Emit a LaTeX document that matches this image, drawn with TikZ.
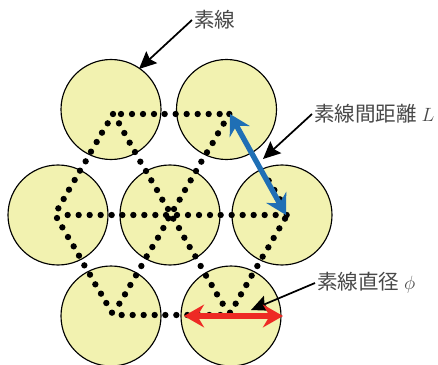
\documentclass[tikz,border=0pt]{standalone}
\usepackage{fontspec}
\newfontfamily\cjk{Noto Sans CJK JP}
\usetikzlibrary{arrows.meta}
\definecolor{jaune}{HTML}{F2F2B0}
\definecolor{bleu}{HTML}{1F6FB5}
\definecolor{rouge}{HTML}{EE2A24}
\definecolor{encre}{HTML}{484848}
\begin{document}
\begin{tikzpicture}[x=0.75pt,y=-0.75pt]
\tikzstyle{lien}=[-{Stealth[length=13pt,width=12pt,inset=2pt]},line width=1.3pt]
\tikzstyle{cote}=[{Stealth[length=15pt,width=17pt,inset=5pt]}-{Stealth[length=15pt,width=17pt,inset=5pt]},line width=4pt]
\tikzset{brin/.style={draw,line width=0.85pt,circle,fill=jaune,minimum size=75pt,inner sep=0pt},
etiquette/.style={text=encre,font=\cjk\fontsize{15.4pt}{15.4pt}\selectfont,inner sep=1.5pt,anchor=west}}
\useasboundingbox (0,0) rectangle (438,364);
\node[brin] (B1) at (111,109.5) {};
\node[brin] (B2) at (226.5,109.5) {};
\node[brin] (B3) at (58,215) {};
\node[brin] (B4) at (170,215) {};
\node[brin] (B5) at (282,215) {};
\node[brin] (B6) at (111,316) {};
\node[brin] (B7) at (231,316) {};

% points
\begin{scope}[shift={(0,60)},x=0.25pt,y=-0.25pt]
\foreach \x in {339,363,396,429,462,494,527,560,593,626,659,688}
  \fill (\x,162) circle (9.5);
\foreach \x in {203,236,269,302,335,367,400,433,466,498,531,564,597,630,662,695,728,761,794,827,860}
  \fill (\x,465) circle (9.5);
\foreach \x in {365,398,431,464,496,529,562,595,628,661}
  \fill (\x,765) circle (9.5);
\foreach \x/\y in {323/190,306/218,290/246,273/275,257/304,240/332,224/360,207/389,191/417,175/445,
171/474,187/502,204/531,221/559,237/587,253/616,270/644,286/673,303/701,319/729,336/758,
357/190,373/219,389/248,405/276,421/305,438/333,454/361,471/390,487/419,504/447,
671/191,654/220,638/249,621/277,604/305,588/333,572/361,555/390,539/419,522/447,
505/475,520/476,490/504,474/533,457/561,440/589,424/618,408/646,391/675,375/703,358/731,
537/504,553/533,569/561,586/589,602/618,618/647,635/675,651/703,668/731,690/758,
806/362,823/390,840/418,855/476,838/505,821/534,805/562,788/590,772/618,755/647,739/675,723/703,707/731}
  \fill (\x,\y) circle (9.5);
\end{scope}

\node[etiquette] (E1) at (192,20) {素線};
\node[etiquette] (E2) at (312,114) {素線間距離 $L$};
\node[etiquette] (E3) at (315,283) {素線直径 $\phi$};

\coordinate (P1) at (139,69);
\coordinate (P2) at (263,159);
\coordinate (P3) at (251,310);
\coordinate (H) at (230,114);
\coordinate (Ba) at (286,215);
\coordinate (Ga) at (184,316);
\coordinate (Da) at (283,316);

\draw[lien] (E1.west) -- (P1);
\draw[lien] (E2.west) -- (P2);
\draw[lien] (E3.west) -- (P3);
\draw[cote,bleu] (H) -- (Ba);
\draw[cote,rouge] (Ga) -- (Da);

\end{tikzpicture}
\end{document}
